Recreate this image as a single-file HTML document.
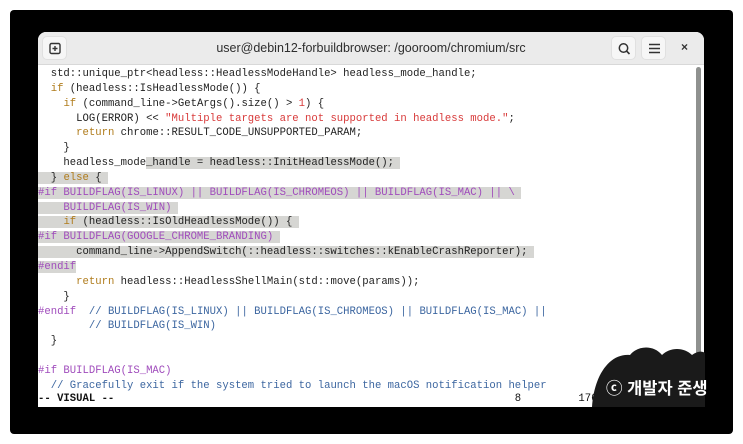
<!DOCTYPE html>
<html><head><meta charset="utf-8"><style>
*{margin:0;padding:0;box-sizing:border-box}
body{width:743px;height:444px;background:#fff;position:relative;overflow:hidden;font-family:"Liberation Sans",sans-serif}
#frame{position:absolute;left:10px;top:10px;width:723px;height:424px;background:#000;border-radius:4px}
#win{position:absolute;left:38px;top:32px;width:666px;height:375px;background:#fff;border-radius:8px 8px 0 0;overflow:hidden}
#title{position:absolute;left:0;top:0;width:666px;height:33px;background:#ebebeb;border-bottom:1px solid #d8d8d8}
#title .t{position:absolute;left:0;width:666px;top:9px;text-align:center;font-size:12.5px;color:#2e2e2e}
.btn{position:absolute;top:4px;width:25px;height:24px;background:#f6f6f6;border-radius:5px;border:1px solid #e0e0e0}
#code{position:absolute;left:0;top:35px;font-family:"Liberation Mono",monospace;font-size:10.6px;line-height:14.85px;white-space:pre;color:#222}
.k{color:#b07c1c}.s{color:#d83a3a}.p{color:#a04cbc}.c{color:#3c66a0}
.h{background:#d6d6d3}
#sb{position:absolute;left:658px;top:35px;width:5px;height:340px;background:#8f918f;border-radius:3px}
#status{position:absolute;left:0;top:361px;font-family:"Liberation Mono",monospace;font-size:10.6px;white-space:pre;color:#111}
</style></head><body>
<div id="frame"></div>
<div id="win">
 <div id="title">
  <div class="btn" style="left:4px"><svg width="25" height="24"><rect x="7" y="6.5" width="10" height="10" rx="1.5" fill="none" stroke="#333" stroke-width="1.4"/><path d="M12 9v5M9.5 11.5h5" stroke="#333" stroke-width="1.4"/></svg></div>
  <div class="t">user@debin12-forbuildbrowser: /gooroom/chromium/src</div>
  <div class="btn" style="left:573px"><svg width="25" height="24"><circle cx="11.5" cy="11" r="4.2" fill="none" stroke="#333" stroke-width="1.5"/><path d="M14.5 14l3 3" stroke="#333" stroke-width="1.6"/></svg></div>
  <div class="btn" style="left:603px"><svg width="25" height="24"><path d="M7 7.5h11M7 11.5h11M7 15.5h11" stroke="#333" stroke-width="1.4"/></svg></div>
  <div style="position:absolute;left:643px;top:8px;font-size:12px;color:#333;font-weight:bold">×</div>
 </div>
 <div id="code">  std::unique_ptr&lt;headless::HeadlessModeHandle&gt; headless_mode_handle;
  <span class="k">if</span> (headless::IsHeadlessMode()) {
    <span class="k">if</span> (command_line-&gt;GetArgs().size() &gt; <span class="s">1</span>) {
      LOG(ERROR) &lt;&lt; <span class="s">"Multiple targets are not supported in headless mode."</span>;
      <span class="k">return</span> chrome::RESULT_CODE_UNSUPPORTED_PARAM;
    }
    headless_mode<span class="h">_handle = headless::InitHeadlessMode(); </span>
<span class="h">  } <span class="k">else</span> { </span>
<span class="h"><span class="p">#if BUILDFLAG(IS_LINUX) || BUILDFLAG(IS_CHROMEOS) || BUILDFLAG(IS_MAC) || \</span> </span>
<span class="h"><span class="p">    BUILDFLAG(IS_WIN)</span> </span>
<span class="h">    <span class="k">if</span> (headless::IsOldHeadlessMode()) { </span>
<span class="h"><span class="p">#if BUILDFLAG(GOOGLE_CHROME_BRANDING)</span> </span>
<span class="h">      command_line-&gt;AppendSwitch(::headless::switches::kEnableCrashReporter); </span>
<span class="h"><span class="p">#endif</span></span>
      <span class="k">return</span> headless::HeadlessShellMain(std::move(params));
    }
<span class="p">#endif</span>  <span class="c">// BUILDFLAG(IS_LINUX) || BUILDFLAG(IS_CHROMEOS) || BUILDFLAG(IS_MAC) ||</span>
        <span class="c">// BUILDFLAG(IS_WIN)</span>
  }

<span class="p">#if BUILDFLAG(IS_MAC)</span>
  <span class="c">// Gracefully exit if the system tried to launch the macOS notification helper</span></div>
 <div id="sb"></div>
 <div id="status"><b>-- VISUAL --</b>                                                               8         176,7           92%</div>
</div>
<svg style="position:absolute;left:592px;top:345px" width="113" height="62"><path d="M0 62 C2 30 18 8 38 10 C46 0 62 0 70 10 C78 2 92 2 100 10 C106 6 110 6 113 8 L113 62 Z" fill="#1a1a1a"/></svg>
<div style="position:absolute;left:606px;top:375px;color:#fff;font-family:'Liberation Sans','Noto Sans CJK KR',sans-serif;font-weight:bold;font-size:16.5px">ⓒ 개발자 준생</div>
</body></html>
